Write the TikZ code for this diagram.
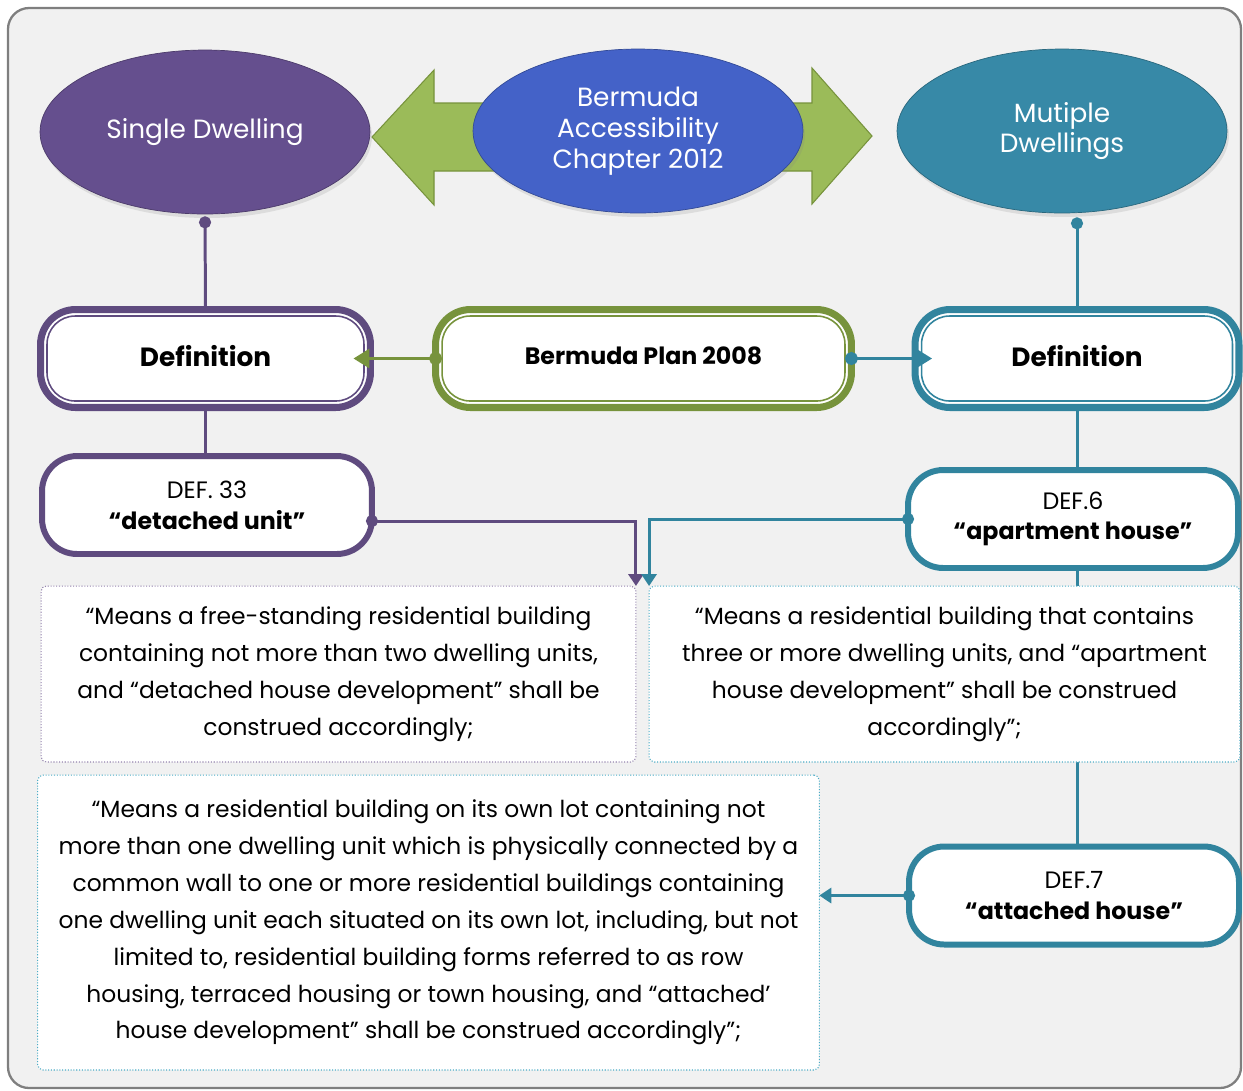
\documentclass[tikz,border=0pt]{standalone}
\usepackage{fontspec}
\setmainfont{Poppins}
\usepackage{tikz}
\usetikzlibrary{positioning,arrows.meta,shapes.geometric,shadows}

\definecolor{bgGray}{HTML}{F1F1F1}
\definecolor{frameGray}{HTML}{7F7F7F}
\definecolor{plum}{HTML}{5F4B7F}
\definecolor{plumFill}{HTML}{654F8E}
\definecolor{lilac}{HTML}{9484AE}
\definecolor{royal}{HTML}{4462C8}
\definecolor{tealC}{HTML}{31849E}
\definecolor{tealFill}{HTML}{3789A7}
\definecolor{skyDot}{HTML}{4BACC6}
\definecolor{leafC}{HTML}{77933C}
\definecolor{leafFill}{HTML}{9BBB59}

\begin{document}
\begin{tikzpicture}[x=0.02cm, y=-0.02cm,
  bubble/.style={ellipse, draw=#1!75!black, fill=#1, text=white, align=center,
    minimum width=6.6cm, minimum height=3.28cm,
    drop shadow={opacity=0.18, shadow xshift=0.04cm, shadow yshift=-0.08cm},
    font=\fontsize{15}{17.5}\selectfont},
  defbox/.style={draw=#1, line width=4pt, fill=white, rounded corners=20pt,
    minimum width=6.6cm, minimum height=1.96cm, outer sep=0pt,
    font=\bfseries\fontsize{15}{18}\selectfont},
  inline/.style={draw=#1, line width=0.9pt, rounded corners=16pt},
  entry/.style={draw=#1, line width=3.4pt, fill=white, rounded corners=20pt,
    minimum width=6.6cm, minimum height=1.96cm, outer sep=0pt, align=center,
    font=\fontsize{13.5}{17.5}\selectfont},
  quote/.style={draw=#1, densely dotted, line width=0.6pt, fill=white,
    rounded corners=3pt, align=center, outer sep=0pt,
    font=\fontsize{13.3}{21}\selectfont},
  link/.style={draw=#1, line width=1.7pt},
  dotarr/.style={{Circle[length=2.6mm]}-{Triangle[length=3.2mm,width=3.8mm]}, shorten <=-1.3mm},
  dotsmall/.style={{Circle[length=2.4mm]}-{Triangle[length=2.4mm,width=3mm]}, shorten <=-1.2mm},
  dotline/.style={{Circle[length=2.4mm]}-},
]
\useasboundingbox (0,0) rectangle (1243,1090);
\draw[fill=bgGray, draw=frameGray, line width=1.3pt, rounded corners=12pt] (8,8) rectangle (1241,1088);

% green double arrow behind the middle bubble
\draw[fill=leafFill, draw=leafC, line width=0.6pt]
  (372,137) -- (434,70) -- (434,103) -- (812,103) -- (812,68) -- (872,136)
  -- (812,204) -- (812,171) -- (434,171) -- (434,205) -- cycle;

\node[bubble=plumFill] (single) at (205,132) {Single Dwelling};
\node[bubble=royal] (access) at (638,131) {Bermuda\\Accessibility\\Chapter 2012};
\node[bubble=tealFill] (multi) at (1062,131) {Mutiple\\Dwellings};

% definition row
\node[defbox=plum] (defL) at (205.5,358.5) {\raisebox{0.1cm}{Definition}};
\node[defbox=leafC, minimum width=8.32cm, font=\bfseries\fontsize{13.5}{16}\selectfont] (plan) at (643.5,358.5) {\raisebox{0.1cm}{Bermuda Plan 2008}};
\node[defbox=tealC, minimum width=6.48cm] (defR) at (1077,358.5) {\raisebox{0.1cm}{Definition}};
\draw[inline=plum] ([shift={(0.13cm,-0.13cm)}]defL.north west) rectangle ([shift={(-0.13cm,0.13cm)}]defL.south east);
\draw[inline=leafC] ([shift={(0.13cm,-0.13cm)}]plan.north west) rectangle ([shift={(-0.13cm,0.13cm)}]plan.south east);
\draw[inline=tealC] ([shift={(0.13cm,-0.13cm)}]defR.north west) rectangle ([shift={(-0.13cm,0.13cm)}]defR.south east);

% DEF entries
\node[entry=plum] (def33) at (207,505) {DEF. 33\\\textbf{“detached unit”}};
\node[entry=tealC] (def6) at (1073,519) {DEF.6\\\textbf{“apartment house”}};
\node[entry=tealC] (def7) at (1074,895.5) {DEF.7\\\textbf{“attached house”}};

\draw[link=plum, dotline] ([yshift=-0.04cm]single.south) -- (defL.north);
\draw[link=tealC, dotline] ([yshift=-0.08cm]multi.south -| defR.north) -- (defR.north);
\draw[link=plum] (defL.south) -- (defL.south |- def33.north);
\draw[link=tealC] (defR.south) -- (defR.south |- def6.north);
\draw[link=tealC] (def6.south -| defR.south) -- (def7.north -| defR.south);
\draw[link=leafC, dotarr] (plan.west) -- ([xshift=-0.34cm]defL.east);
\draw[link=tealC, dotarr] (plan.east) -- ([xshift=0.34cm]defR.west);

% quoted definitions
\node[quote=lilac, minimum width=11.9cm, minimum height=3.52cm] (txtL) at (338.5,674)
  {“Means a free-standing residential building\\containing not more than two dwelling units,\\and “detached house development” shall be\\construed accordingly;};
\node[quote=skyDot, minimum width=11.82cm, minimum height=3.52cm] (txtR) at (944.5,674)
  {“Means a residential building that contains\\three or more dwelling units, and “apartment\\house development” shall be construed\\accordingly”;};
\node[quote=skyDot, minimum width=15.58cm, minimum height=5.9cm] (txtB) at (428.5,922.5)
  {\raisebox{0.15cm}{\parbox{15.4cm}{\centering “Means a residential building on its own lot containing not\\more than one dwelling unit which is physically connected by a\\common wall to one or more residential buildings containing\\one dwelling unit each situated on its own lot, including, but not\\limited to, residential building forms referred to as row\\housing, terraced housing or town housing, and “attached'\\house development” shall be construed accordingly”;}}};

\draw[link=plum, dotsmall] ([yshift=-0.32cm]def33.east) -| (txtL.north east);
\draw[link=tealC, dotsmall] (def6.west) -| (txtR.north west);
\draw[link=tealC, dotsmall] (def7.west) -- (def7.west -| txtB.east);
\end{tikzpicture}
\end{document}
